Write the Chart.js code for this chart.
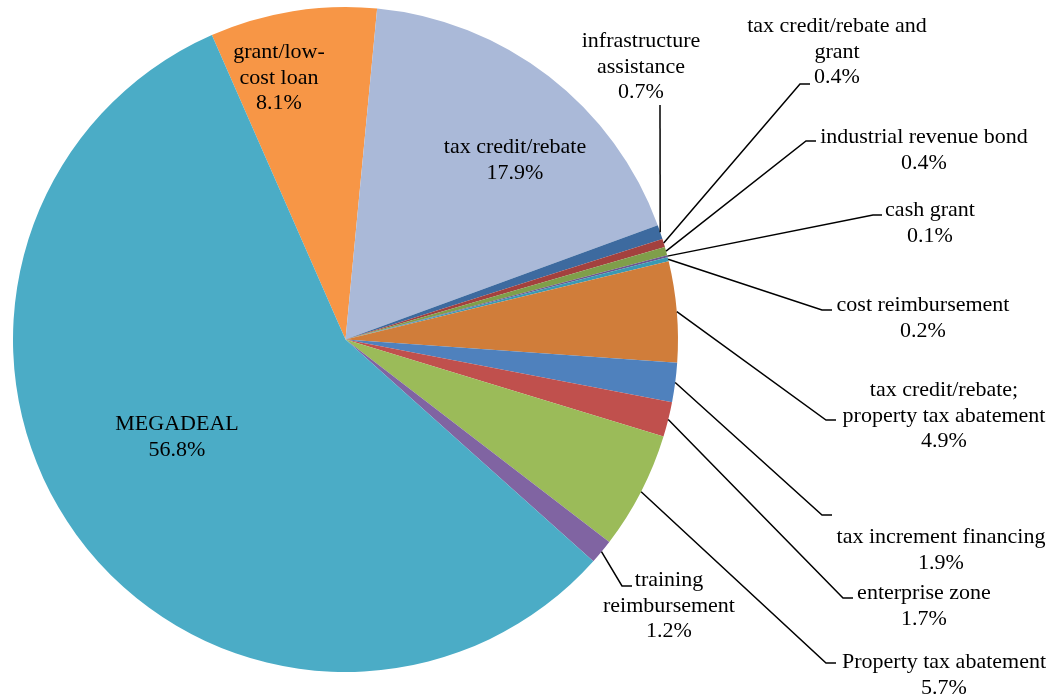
<!DOCTYPE html>
<html>
<head>
<meta charset="utf-8">
<script src="https://cdn.jsdelivr.net/npm/chart.js@4/dist/chart.umd.min.js"></script>
<style>
    html, body { margin: 0; padding: 0; background: #fff; }
    #wrap { width: 1063px; height: 700px; position: relative; }
</style>
</head>
<body>
<div id="wrap"><canvas id="pie"></canvas></div>
<script>
// incentive types, clockwise from the grant slice
const categories = [
    'grant/low-cost loan',
    'tax credit/rebate',
    'infrastructure assistance',
    'tax credit/rebate and grant',
    'industrial revenue bond',
    'cash grant',
    'cost reimbursement',
    'tax credit/rebate; property tax abatement',
    'tax increment financing',
    'enterprise zone',
    'Property tax abatement',
    'training reimbursement',
    'MEGADEAL'
]
const shares = [8.1, 17.9, 0.7, 0.4, 0.4, 0.1, 0.2, 4.9, 1.9, 1.7, 5.7, 1.2, 56.8]
const sliceColors = [
    '#F79646', '#AAB9D8', '#3D6A9F', '#A3413E', '#7F9F4A', '#6B5690', '#3A9AB4',
    '#D07D3A', '#4F81BD', '#C0504D', '#9BBB59', '#8064A2', '#4BACC6'
]
// how each label is written (lines before the percentage)
const labelLines = [
    ['grant/low-', 'cost loan'],
    ['tax credit/rebate'],
    ['infrastructure', 'assistance'],
    ['tax credit/rebate and', 'grant'],
    ['industrial revenue bond'],
    ['cash grant'],
    ['cost reimbursement'],
    ['tax credit/rebate;', 'property tax abatement'],
    ['tax increment financing'],
    ['enterprise zone'],
    ['Property tax abatement'],
    ['training', 'reimbursement'],
    ['MEGADEAL']
]

// where each label sits; elbow/end give the leader line path from the slice edge
const labelLayout = [
    {x: 279, y: 52.5},
    {x: 515, y: 147.5},
    {x: 641, y: 41.5, elbow: [660, 105], end: [660, 105]},
    {x: 837, y: 26.5, elbow: [800, 84], end: [810, 84]},
    {x: 924, y: 137.5, elbow: [806, 141], end: [816, 141]},
    {x: 930, y: 210.5, elbow: [873, 215], end: [882, 215]},
    {x: 923, y: 305.5, elbow: [822, 310], end: [832, 310]},
    {x: 944, y: 390.5, elbow: [826, 420], end: [836, 420]},
    {x: 941, y: 537.5, elbow: [822, 515], end: [832, 515]},
    {x: 924, y: 593.5, elbow: [843, 598], end: [853, 598]},
    {x: 944, y: 662.5, elbow: [826, 663], end: [836, 663]},
    {x: 669, y: 580.5, elbow: [622, 586], end: [632, 586]},
    {x: 177, y: 424.5}
]

const FONT = '22px "Liberation Serif", "Times New Roman", serif'
const LINE_H = 25.5

const pieLabels = {
    id: 'pieLabels',
    afterDatasetsDraw(chart) {
        const ctx = chart.ctx
        const arcs = chart.getDatasetMeta(0).data
        ctx.save()
        ctx.strokeStyle = '#000'
        ctx.lineWidth = 1.5
        arcs.forEach((arc, i) => {
            const lay = labelLayout[i]
            if (!lay.elbow) return
            const {x, y, startAngle, endAngle, outerRadius} = arc.getProps(['x', 'y', 'startAngle', 'endAngle', 'outerRadius'], true)
            const mid = (startAngle + endAngle) / 2
            ctx.beginPath()
            ctx.moveTo(x + Math.cos(mid) * outerRadius, y + Math.sin(mid) * outerRadius)
            ctx.lineTo(lay.elbow[0], lay.elbow[1])
            ctx.lineTo(lay.end[0], lay.end[1])
            ctx.stroke()
        })

        ctx.font = FONT
        ctx.fillStyle = '#000'
        ctx.textAlign = 'center'
        ctx.textBaseline = 'middle'
        labelLines.forEach((lines, i) => {
            const lay = labelLayout[i]
            const all = lines.concat([shares[i].toFixed(1) + '%'])
            all.forEach((t, k) => ctx.fillText(t, lay.x, lay.y + k * LINE_H))
        })
        ctx.restore()
    }
}

const chart = new Chart(document.getElementById('pie'), {
    type: 'pie',
    data: {
        labels: categories,
        datasets: [{
            data: shares,
            backgroundColor: sliceColors,
            borderWidth: 0,
            hoverOffset: 0
        }]
    },
    options: {
        responsive: true,
        maintainAspectRatio: false,
        animation: false,
        rotation: -23.7,
        layout: {
            padding: {left: 13, top: 7, right: 385, bottom: 28}
        },
        plugins: {
            legend: {display: false},
            tooltip: {enabled: false}
        }
    },
    plugins: [pieLabels]
})
</script>
</body>
</html>
